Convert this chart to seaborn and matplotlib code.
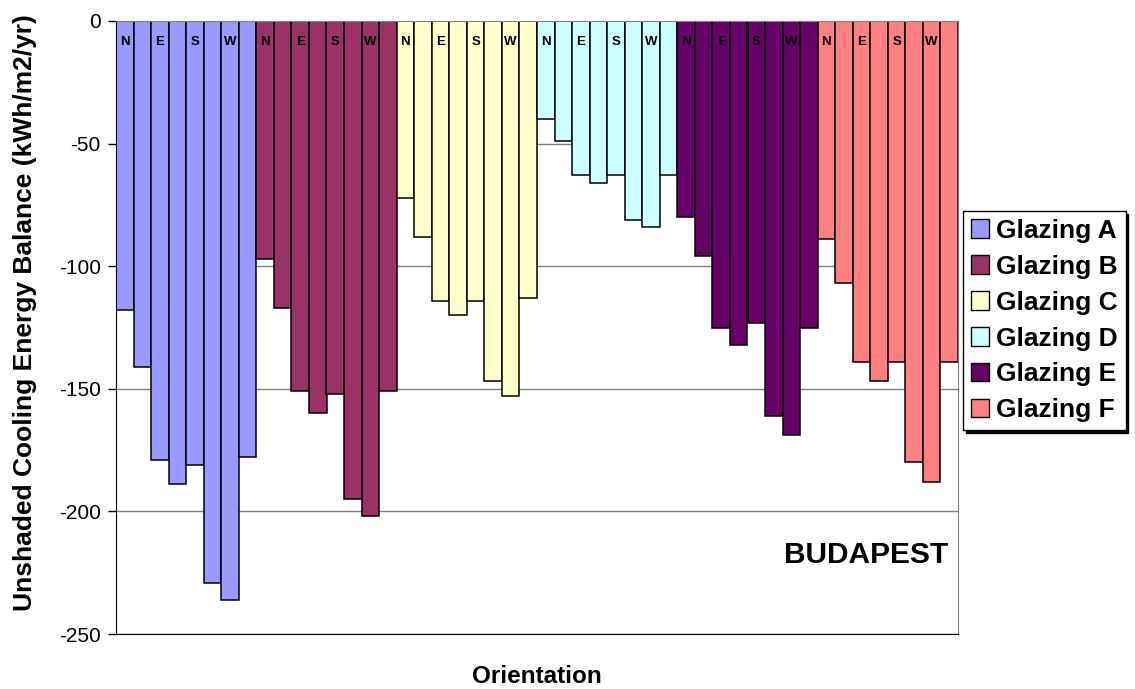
import matplotlib
matplotlib.use("Agg")
import matplotlib.pyplot as plt
import numpy as np
import pandas as pd
import seaborn as sns

# orientations in each glazing group (8 bars, only main ones labelled)
orientations = ["N", "NE", "E", "SE", "S", "SW", "W", "NW"]
bar_labels = ["N", "", "E", "", "S", "", "W", ""]
glazings = ["Glazing A", "Glazing B", "Glazing C", "Glazing D", "Glazing E", "Glazing F"]

glazing_a = [-118, -141, -179, -189, -181, -229, -236, -178]
glazing_b = [-97, -117, -151, -160, -152, -195, -202, -151]
glazing_c = [-72, -88, -114, -120, -114, -147, -153, -113]
glazing_d = [-40, -49, -63, -66, -63, -81, -84, -63]
glazing_e = [-80, -96, -125, -132, -123, -161, -169, -125]
glazing_f = [-89, -107, -139, -147, -139, -180, -188, -139]

colors = ["#9999FF", "#993366", "#FFFFCC", "#CCFFFF", "#660066", "#FF8080"]

values = [glazing_a, glazing_b, glazing_c, glazing_d, glazing_e, glazing_f]
rows = []
for g, vals in zip(glazings, values):
    for o, v in zip(orientations, vals):
        rows.append({"glazing": g, "orientation": o, "value": v})
df = pd.DataFrame(rows)
df["pos"] = [str(i) for i in range(len(df))]

sns.set_style("white")
plt.rcParams["font.family"] = ["Liberation Sans", "DejaVu Sans"]
plt.rcParams["axes.unicode_minus"] = False
plt.rcParams["text.color"] = "black"
plt.rcParams["axes.labelcolor"] = "black"
plt.rcParams["ytick.color"] = "black"

fig = plt.figure(figsize=(11.35, 6.89), dpi=100)
ax = fig.add_axes([116 / 1135, 1 - 634 / 689, (958 - 116) / 1135, (634 - 21) / 689])

sns.barplot(
    data=df, x="pos", y="value", hue="glazing", palette=colors, saturation=1,
    dodge=False, width=1.0, edgecolor="black", linewidth=1.1, ax=ax,
    order=list(df["pos"]), hue_order=glazings,
)

ax.set_xlim(-0.5, len(df) - 0.5)
ax.set_ylim(-250, 0)
ax.set_yticks(np.arange(-250, 1, 50))
ax.yaxis.grid(True, color="#808080", linewidth=1)
ax.set_axisbelow(True)
ax.set_xticks([])
ax.tick_params(axis="y", direction="out", length=6, width=1, left=True, labelsize=15, pad=5)
for side in ["left", "bottom"]:
    ax.spines[side].set_color("black")
for side in ["right", "top"]:
    ax.spines[side].set_color("#808080")

# N / E / S / W labels inside the top of the bars
for i, lab in enumerate(bar_labels * len(glazings)):
    if lab:
        ax.text(i, -8.6, lab, ha="center", va="center", fontsize=9.5, fontweight="bold")

ax.set_xlabel("Orientation", fontsize=17.5, fontweight="bold", labelpad=22)
ax.set_ylabel("Unshaded Cooling Energy Balance (kWh/m2/yr)", fontsize=19, fontweight="bold")
ax.yaxis.set_label_coords(-0.094, 0.524)
ax.text(0.988, 0.129, "BUDAPEST", transform=ax.transAxes, ha="right", va="center",
        fontsize=21.5, fontweight="bold")

handles, labels = ax.get_legend_handles_labels()
ax.get_legend().remove()
leg = fig.legend(
    handles, labels, loc="upper left", bbox_to_anchor=(963 / 1135, 1 - 211 / 689),
    frameon=True, fancybox=False, shadow={"color": "black", "alpha": 1}, edgecolor="black",
    prop={"weight": "bold", "size": 19}, handlelength=0.7, handleheight=0.7,
    handletextpad=0.25, labelspacing=0.45, borderpad=0.3, borderaxespad=0,
)
leg.get_frame().set_linewidth(1)
for h in leg.legend_handles:
    h.set_edgecolor("black")
    h.set_linewidth(1)

fig.savefig("out.png", dpi=100)
